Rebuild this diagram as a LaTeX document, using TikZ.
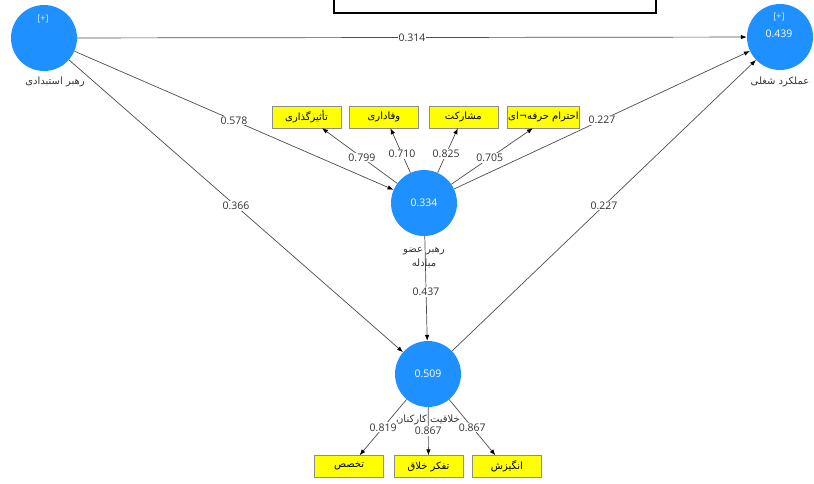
\documentclass[tikz,border=0pt]{standalone}
\usepackage{fontspec}
\setmainfont{Open Sans}
\newfontfamily\farsi[Script=Arabic]{DejaVu Sans}
\TeXXeTstate=1
\definecolor{latentblue}{RGB}{30,144,255}
\definecolor{itemyellow}{RGB}{255,255,0}
\colorlet{linkgray}{black!70}
\usetikzlibrary{
  arrows.meta,
  calc,
  positioning,
}
\tikzset{
  >={Latex[length=6pt, width=4.5pt, color=black]},
}
\newcommand{\fa}[1]{{\farsi\beginR #1\endR}}

\begin{document}
\begin{tikzpicture}[x=1pt, y=-1pt,
    latent/.style={circle, fill=latentblue, minimum size=66pt, inner sep=0pt,
                   text=white, font=\fontsize{10.5}{12}\selectfont},
    tag/.style={text=white!85!latentblue, font=\small},
    indicator/.style={draw=black!45, fill=itemyellow, minimum width=69pt,
                      minimum height=22pt, inner sep=1pt,
                      font=\farsi\fontsize{10}{12}\selectfont},
    caption/.style={font=\farsi\fontsize{10}{12}\selectfont, text=black!80,
                    align=center},
    link/.style={->, linkgray, line width=0.7pt},
    coef/.style={fill=white, inner sep=1pt,
                 font=\fontsize{10.5}{12}\selectfont, text=black!80}]
  \useasboundingbox (0,0) rectangle (814,483);
  \draw [line width=1.6pt] (334,-10) rectangle (656,13);
  \node [latent] (autocratic) at (44,38) {};
  \node [tag] (autocraticplus) at (43,19) {[+]};
  \node [caption] (autocraticname) at (55,82) {\fa{رهبر استبدادی}};
  \node [latent] (performance) at (780,37) {};
  \node [tag] (performanceplus) at (779,17) {[+]};
  \node [text=white, font=\fontsize{10.5}{12}\selectfont] (performancer)
        at (779,34) {0.439};
  \node [caption] (performancename) at (780,82) {\fa{عملکرد شغلی}};
  \node [latent] (lmx) at (424,203) {0.334};
  \node [caption] (lmxname) at (424,258) {\fa{رهبر عضو}\\[2pt]\fa{مبادله}};
  \node [latent] (creativity) at (428,374) {0.509};
  \node [caption] (creativityname) at (428,420) {\fa{خلاقیت کارکنان}};
  \node [indicator] (affect) at (306.5,117) {\fa{تأثیرگذاری}};
  \node [indicator, right=8pt of affect] (loyalty) {\fa{وفاداری}};
  \node [indicator, right=10pt of loyalty] (contribution) {\fa{مشارکت}};
  \node [indicator, right=9pt of contribution] (respect) {\fa{احترام حرفه¬ای}};
  \node [indicator] (thinking) at (428.5,466.5) {\fa{تفکر خلاق}};
  \node [indicator, left=10pt of thinking] (expertise) {\fa{تخصص}};
  \node [indicator, right=9pt of thinking] (motivation) {\fa{انگیزش}};
  \draw [link] (autocratic) -- node [coef] {0.314} (performance);
  \draw [link] (autocratic) -- node [coef] {0.578} (lmx);
  \draw [link] (autocratic) -- node [coef] {0.366} (creativity);
  \draw [link] (lmx) -- node [coef] {0.227} (performance);
  \draw [link] (creativity) -- node [coef] {0.227} (performance);
  \draw [link] (lmx) -- node [coef, pos=0.53] {0.437} (creativity);
  \draw [link] (lmx) -- node [coef, pos=0.47] {0.799} ([xshift=15.5pt]affect.south);
  \draw [link] (lmx) -- node [coef, pos=0.42] {0.710} ([xshift=6.5pt]loyalty.south);
  \draw [link] (lmx) -- node [coef, pos=0.42] {0.825} ([xshift=-5.5pt]contribution.south);
  \draw [link] (lmx) -- node [coef, pos=0.47] {0.705} ([xshift=-10.5pt]respect.south);
  \draw [link] (creativity) -- node [coef] {0.819} ([xshift=10.5pt]expertise.north);
  \draw [link] (creativity) -- node [coef] {0.867} (thinking);
  \draw [link] (creativity) -- node [coef] {0.867} ([xshift=-11.5pt]motivation.north);
\end{tikzpicture}
\end{document}
